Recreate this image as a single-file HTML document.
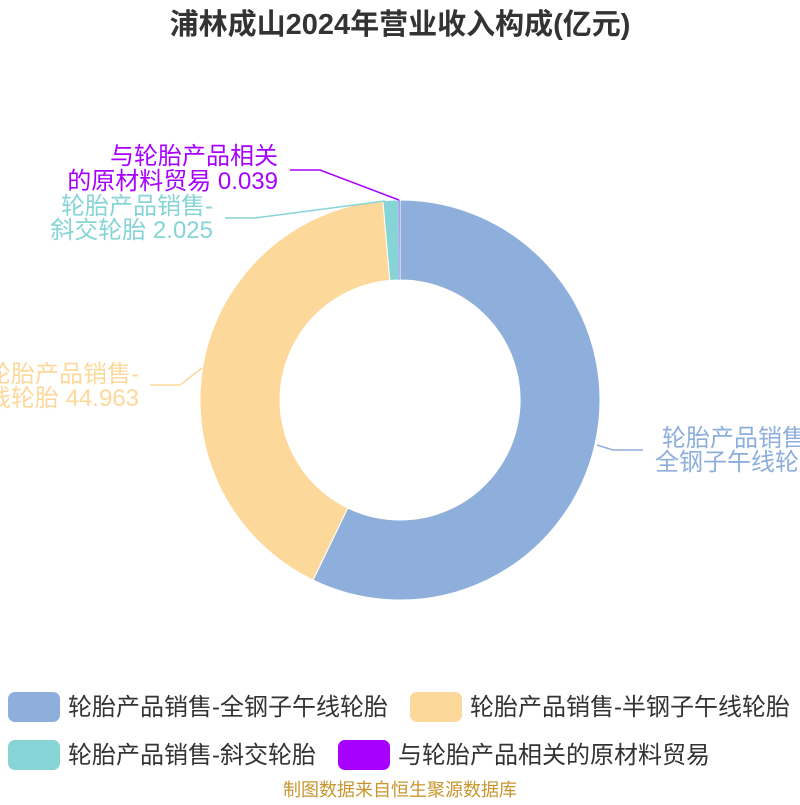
<!DOCTYPE html>
<html><head><meta charset="utf-8"><style>
body{margin:0;background:#fff}
svg text{font-family:"Liberation Sans","Noto Sans CJK SC",sans-serif}
</style></head><body>
<svg width="800" height="800" viewBox="0 0 800 800" xmlns="http://www.w3.org/2000/svg">
<text x="400" y="34" text-anchor="middle" font-size="29" font-weight="bold" fill="#333">浦林成山2024年营业收入构成(亿元)</text>
<g stroke="#fff" stroke-width="1">
<path d="M400,200 A200,200 0 1 1 313.0,580.1 L347.8,508.0 A120,120 0 1 0 400,280 Z" fill="#8eaedb"/>
<path d="M313.0,580.1 A200,200 0 0 1 382.9,200.7 L389.8,280.4 A120,120 0 0 0 347.8,508.0 Z" fill="#fdd89b"/>
<path d="M382.9,200.7 A200,200 0 0 1 399.5,200 L399.7,280 A120,120 0 0 0 389.8,280.4 Z" fill="#87d4d6"/>
</g>
<path d="M399.5,200 L400,200 L400,280 L399.7,280 Z" fill="#a800ff"/>
<g fill="none" stroke-width="1.5">
<polyline points="399,200 320,170 290,170" stroke="#a800ff"/>
<polyline points="385,201 255,218 225,218" stroke="#87d4d6"/>
<polyline points="202,368 180,385 150,385" stroke="#fdd89b"/>
<polyline points="597,445 613,450 643,450" stroke="#8eaedb"/>
</g>
<g font-size="24">
<text x="278" y="164" text-anchor="end" fill="#a800ff">与轮胎产品相关</text>
<text x="278" y="189" text-anchor="end" fill="#a800ff">的原材料贸易 0.039</text>
<text x="213" y="214" text-anchor="end" fill="#87d4d6">轮胎产品销售-</text>
<text x="213" y="238" text-anchor="end" fill="#87d4d6">斜交轮胎 2.025</text>
<text x="139" y="382" text-anchor="end" fill="#fdd89b">轮胎产品销售-</text>
<text x="139" y="406" text-anchor="end" fill="#fdd89b">半钢子午线轮胎 44.963</text>
<text x="662" y="446" fill="#8eaedb">轮胎产品销售-</text>
<text x="655" y="470" fill="#8eaedb">全钢子午线轮胎 62.0</text>
</g>
<g font-size="24" fill="#333">
<rect x="8" y="692" width="52" height="30" rx="7" fill="#8eaedb"/>
<text x="68" y="715">轮胎产品销售-全钢子午线轮胎</text>
<rect x="410" y="692" width="52" height="30" rx="7" fill="#fdd89b"/>
<text x="470" y="715">轮胎产品销售-半钢子午线轮胎</text>
<rect x="8" y="740" width="52" height="30" rx="7" fill="#87d4d6"/>
<text x="68" y="763">轮胎产品销售-斜交轮胎</text>
<rect x="338" y="740" width="52" height="30" rx="7" fill="#a800ff"/>
<text x="398" y="763">与轮胎产品相关的原材料贸易</text>
</g>
<text x="400" y="796" text-anchor="middle" font-size="18" fill="#c8962e">制图数据来自恒生聚源数据库</text>
</svg>
</body></html>
